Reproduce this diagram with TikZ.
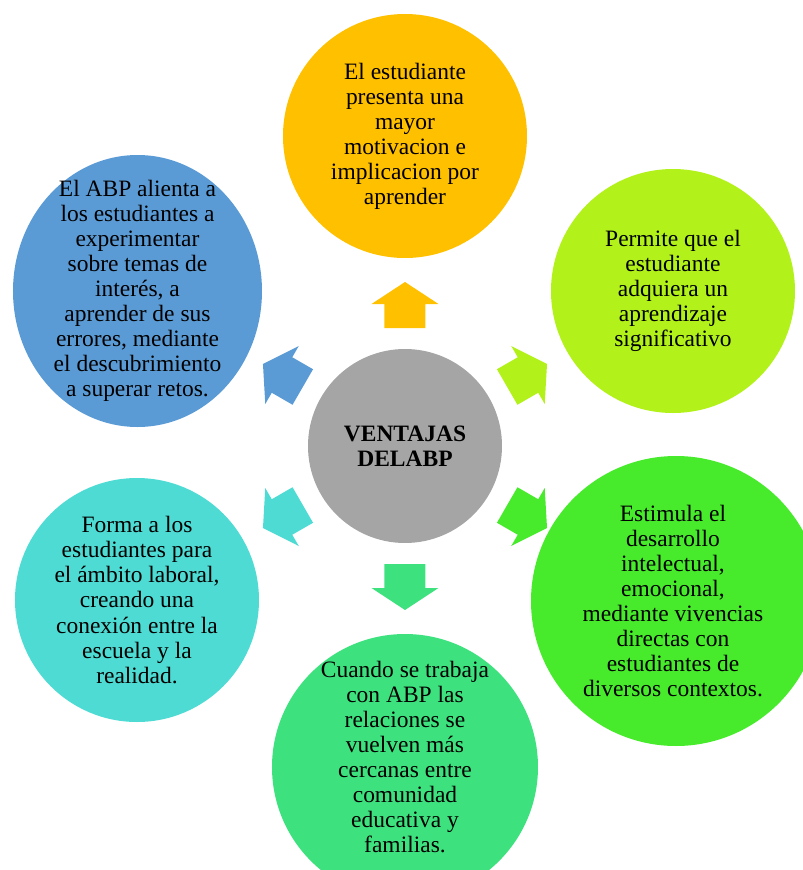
\documentclass[tikz,border=0pt]{standalone}
\usepackage{fontspec}
\setmainfont{Liberation Serif}
\usetikzlibrary{calc}
\usetikzlibrary{shapes.geometric}
\definecolor{ventgris}{HTML}{A5A5A5}
\definecolor{ventoro}{HTML}{FFC000}
\definecolor{ventlima}{HTML}{B2F21A}
\definecolor{ventverde}{HTML}{47EB2C}
\definecolor{ventmenta}{HTML}{3DE27E}
\definecolor{ventcian}{HTML}{4DDBD3}
\definecolor{ventazul}{HTML}{5B9BD5}
\newcommand{\tamtexto}{\fontsize{16.7pt}{17.8pt}\selectfont}
\tikzset{
	burbuja/.style={circle, inner sep=0pt, draw=none},
	texto/.style={align=center, inner sep=0pt, font=\tamtexto},
}

\begin{document}
\begin{tikzpicture}
		\useasboundingbox (-10.125,-10.6) rectangle (9.95,11.15);
		\node[burbuja, fill=ventgris, minimum size=4.85cm] (c) at (0,0) {};
		\node[burbuja, fill=ventoro, minimum size=6.1cm] (arr) at (0,7.75) {};
		\node[burbuja, fill=ventlima, minimum size=6.1cm] (dsup) at (6.7,3.875) {};
		\node[burbuja, fill=ventverde, minimum size=7.25cm] (dinf) at (6.775,-3.875) {};
		\node[burbuja, fill=ventmenta, minimum size=6.65cm] (abj) at (0,-8.025) {};
		\node[burbuja, fill=ventcian, minimum size=6.1cm] (iinf) at (-6.7,-3.85) {};
		\node[ellipse, inner sep=0pt, fill=ventazul, minimum width=6.225cm, minimum height=6.8cm] (isup) at (-6.6875,3.875) {};
		% flechas hacia afuera
		\foreach \a\col in {90/ventoro,30/ventlima,-30/ventverde,-90/ventmenta,210/ventcian,150/ventazul}
		\fill[\col, shift={(c)}, rotate=\a] (2.95,-.5125) -- (3.55,-.5125) -- (3.55,-.8375) -- (4.1,0) -- (3.55,.8375) -- (3.55,.5125) -- (2.95,.5125) -- cycle;
		\node[texto, font=\tamtexto\bfseries] (tc) at (c) {VENTAJAS\\DELABP};
		\node[texto] (tarr) at (arr) {El estudiante\\presenta una\\mayor\\motivacion e\\implicacion por\\aprender};
		\node[texto] (tdsup) at (dsup) {Permite que el\\estudiante\\adquiera un\\aprendizaje\\significativo};
		\node[texto] (tdinf) at ($ (dinf) + (-.075,0) $) {Estimula el\\desarrollo\\intelectual,\\emocional,\\mediante vivencias\\directas con\\estudiantes de\\diversos contextos.};
		\node[texto] (tabj) at ($ (abj) + (0,.25) $) {Cuando se trabaja\\con ABP las\\relaciones se\\vuelven más\\cercanas entre\\comunidad\\educativa y\\familias.};
		\node[texto] (tiinf) at (iinf) {Forma a los\\estudiantes para\\el ámbito laboral,\\creando una\\conexión entre la\\escuela y la\\realidad.};
		\node[texto] (tisup) at (isup) {El ABP alienta a\\los estudiantes a\\experimentar\\sobre temas de\\interés, a\\aprender de sus\\errores, mediante\\el descubrimiento\\a superar retos.};
	\end{tikzpicture}
\end{document}
